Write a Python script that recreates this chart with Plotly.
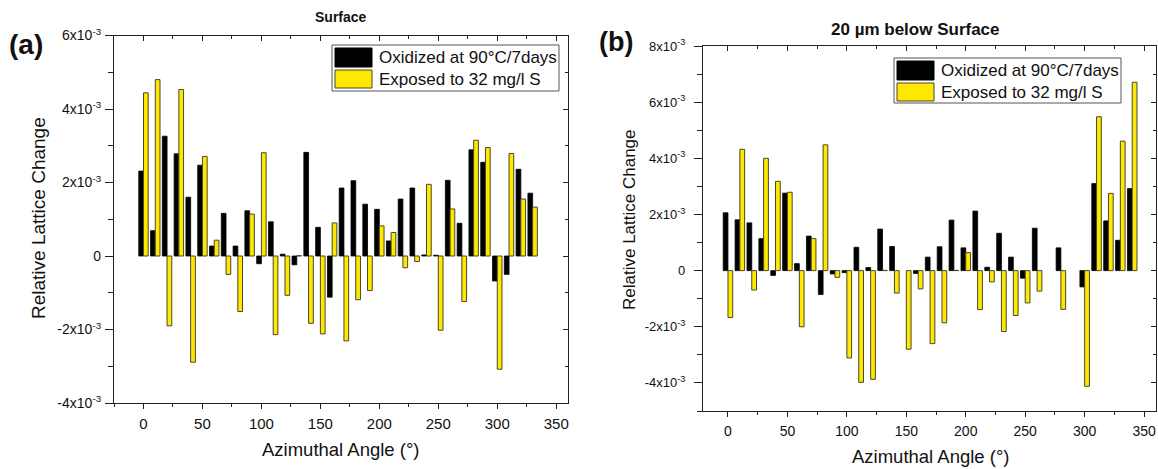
import plotly.graph_objects as go

W, H = 1158, 469

# ---------------- data (values in units of 1e-3) ----------------
left_angles = list(range(0, 340, 10))
left_oxidized = [2.31, 0.69, 3.26, 2.78, 1.60, 2.47, 0.27, 1.16, 0.27, 1.23,
                 -0.21, 0.93, 0.05, -0.24, 2.82, 0.78, -1.12, 1.85, 2.05, 1.41,
                 1.27, 0.41, 1.55, 1.85, 0.03, 0.02, 2.06, 0.89, 2.89, 2.55,
                 -0.68, -0.50, 2.36, 1.71]
left_sulfur = [4.44, 4.80, -1.90, 4.53, -2.89, 2.71, 0.43, -0.50, -1.51, 1.14,
               2.81, -2.14, -1.07, 0.01, -1.83, -2.12, 0.90, -2.31, -1.19, -0.94,
               0.82, 0.64, -0.32, -0.15, 1.95, -2.02, 1.28, -1.24, 3.15, 2.95,
               -3.08, 2.79, 1.55, 1.33]

right_angles = list(range(0, 350, 10))
right_oxidized = [2.06, 1.81, 1.70, 1.14, -0.17, 2.76, 0.25, 1.23, -0.85, -0.12,
                  -0.07, 0.83, 0.11, 1.48, 0.86, None, -0.10, 0.48, 0.85, 1.80,
                  0.81, 2.12, 0.12, 1.33, 0.48, -0.27, 1.51, None, 0.81, None,
                  -0.58, 3.10, 1.77, 1.08, 2.92]
right_sulfur = [-1.67, 4.32, -0.69, 4.00, 3.18, 2.79, -2.00, 1.14, 4.48, -0.24,
                -3.11, -3.98, -3.87, 0.01, -0.80, -2.80, -0.65, -2.60, -1.86, 0.01,
                0.64, -1.39, -0.40, -2.17, -1.60, -1.15, -0.73, None, -1.38, None,
                -4.12, 5.48, 2.75, 4.61, 6.71]

series_names = ["Oxidized at 90°C/7days", "Exposed to 32 mg/l S"]
panel_titles = ["Surface", "20 µm below Surface"]
panel_labels = ["(a)", "(b)"]
x_title = "Azimuthal Angle (°)"
y_title = "Relative Lattice Change"
x_ticks = [0, 50, 100, 150, 200, 250, 300, 350]
left_y_ticks = [-4, -2, 0, 2, 4, 6]
right_y_ticks = [-4, -2, 0, 2, 4, 6, 8]
left_x_range = [-25, 360]
left_y_range = [-4, 6]
right_x_range = [-21, 360]
right_y_range = [-5, 8]

# ---------------- style ----------------
FONT = "Arial, Liberation Sans, sans-serif"
TXT = "#111111"
AX = "#222222"
BLACK = "#000000"
YELLOW = "#FFE800"
YEL_LINE = "#4a4630"


def px(x):
    return x / W


def py(y):
    return 1 - y / H


def ytext(v):
    return "0" if v == 0 else f"{v}x10<sup>-3</sup>"


fig = go.Figure()

for xa, ya, ang, ox, su in [("x", "y", left_angles, left_oxidized, left_sulfur),
                            ("x2", "y2", right_angles, right_oxidized, right_sulfur)]:
    fig.add_trace(go.Bar(x=ang, y=ox, name=series_names[0], xaxis=xa, yaxis=ya,
                         marker=dict(color=BLACK, line=dict(color=BLACK, width=0.8)),
                         showlegend=False))
    fig.add_trace(go.Bar(x=ang, y=su, name=series_names[1], xaxis=xa, yaxis=ya,
                         marker=dict(color=YELLOW, line=dict(color=YEL_LINE, width=1)),
                         showlegend=False))

# empty traces so the top/right frame axes (inside ticks) get drawn
fig.add_trace(go.Scatter(x=[], y=[], xaxis="x3", yaxis="y3", showlegend=False, hoverinfo="skip"))
fig.add_trace(go.Scatter(x=[], y=[], xaxis="x4", yaxis="y4", showlegend=False, hoverinfo="skip"))

base = dict(showline=True, linecolor=AX, linewidth=1.2, mirror=False,
            tickwidth=1, tickcolor=AX, showgrid=False, zeroline=False, automargin=False,
            tickfont=dict(family=FONT, size=15, color=TXT))

xmain = dict(base, tickvals=x_ticks, ticks="outside", ticklen=5, ticklabelstandoff=2,
             minor=dict(dtick=25, tick0=0, ticks="outside", ticklen=3, tickcolor=AX))
ymain = dict(base, ticks="outside", ticklen=8, ticklabelstandoff=1,
             tickfont=dict(family=FONT, size=14, color=TXT),
             minor=dict(dtick=1, tick0=0, ticks="outside", ticklen=5, tickcolor=AX))
xframe = dict(base, tickvals=x_ticks, ticks="inside", ticklen=5, side="top", showticklabels=False,
              minor=dict(dtick=25, tick0=0, ticks="inside", ticklen=3, tickcolor=AX))
yframe = dict(base, ticks="inside", ticklen=5, side="right", showticklabels=False,
              minor=dict(dtick=1, tick0=0, ticks="inside", ticklen=3, tickcolor=AX))

L_DOM_X = [px(114), px(568)]
L_DOM_Y = [py(403), py(35.5)]
R_DOM_X = [px(703), px(1156)]
R_DOM_Y = [py(411), py(46)]

fig.update_layout(
    width=W, height=H,
    margin=dict(l=0, r=0, t=0, b=0),
    paper_bgcolor="white", plot_bgcolor="white",
    barmode="group", bargap=0.2, bargroupgap=0.0,
    font=dict(family=FONT, color=TXT),
    xaxis=dict(xmain, domain=L_DOM_X, range=left_x_range, anchor="y"),
    yaxis=dict(ymain, domain=L_DOM_Y, range=left_y_range, anchor="x",
               tickvals=left_y_ticks, ticktext=[ytext(v) for v in left_y_ticks]),
    xaxis2=dict(xmain, domain=R_DOM_X, range=right_x_range, anchor="y2",
                tickfont=dict(family=FONT, size=14, color=TXT)),
    yaxis2=dict(ymain, domain=R_DOM_Y, range=right_y_range, anchor="x2",
                tickvals=right_y_ticks, ticktext=[ytext(v) for v in right_y_ticks],
                tickfont=dict(family=FONT, size=13, color=TXT), ticklabelstandoff=6),
    xaxis3=dict(xframe, overlaying="x", range=left_x_range, anchor="y3"),
    yaxis3=dict(yframe, overlaying="y", range=left_y_range, anchor="x3", tickvals=left_y_ticks),
    xaxis4=dict(xframe, overlaying="x2", range=right_x_range, anchor="y4"),
    yaxis4=dict(yframe, overlaying="y2", range=right_y_range, anchor="x4", tickvals=right_y_ticks),
)

annotations = []
shapes = []


def txt(text, x, y, size, angle=0, xanchor="center", bold=False):
    annotations.append(dict(text=f"<b>{text}</b>" if bold else text, x=px(x), y=py(y),
                            xref="paper", yref="paper", xanchor=xanchor, yanchor="middle",
                            textangle=angle, showarrow=False,
                            font=dict(family=FONT, size=size, color=TXT)))


# panel titles and labels
txt(panel_titles[0], 341, 17, 14, bold=True)
txt(panel_titles[1], 915, 29, 17, bold=True)
txt(panel_labels[0], 26, 45, 28, bold=True)
txt(panel_labels[1], 616, 42, 27, bold=True)

# axis titles
txt(x_title, 341, 449, 18.5)
txt(x_title, 931, 456, 18.5)
txt(y_title, 39, 218, 19, angle=-90)
txt(y_title, 629, 220, 17, angle=-90)

# custom legends
for (bx0, by0, bx1, by1) in [(332, 45, 559, 91), (894, 58, 1121, 103)]:
    shapes.append(dict(type="rect", xref="paper", yref="paper",
                       x0=px(bx0), x1=px(bx1), y0=py(by1), y1=py(by0),
                       line=dict(color="#555", width=1), fillcolor="white", layer="above"))
    sw_x0, sw_x1 = bx0 + 3, bx0 + 40
    rows = [(by0 + 3, by0 + 22, BLACK, BLACK), (by0 + 25, by0 + 43, YELLOW, YEL_LINE)]
    for (r0, r1, fc, lc), name in zip(rows, series_names):
        shapes.append(dict(type="rect", xref="paper", yref="paper",
                           x0=px(sw_x0), x1=px(sw_x1), y0=py(r1), y1=py(r0),
                           line=dict(color=lc, width=1), fillcolor=fc, layer="above"))
        txt(name, sw_x1 + 5, (r0 + r1) / 2, 17, xanchor="left")

fig.update_layout(annotations=annotations, shapes=shapes)

fig.write_html("out.html")
